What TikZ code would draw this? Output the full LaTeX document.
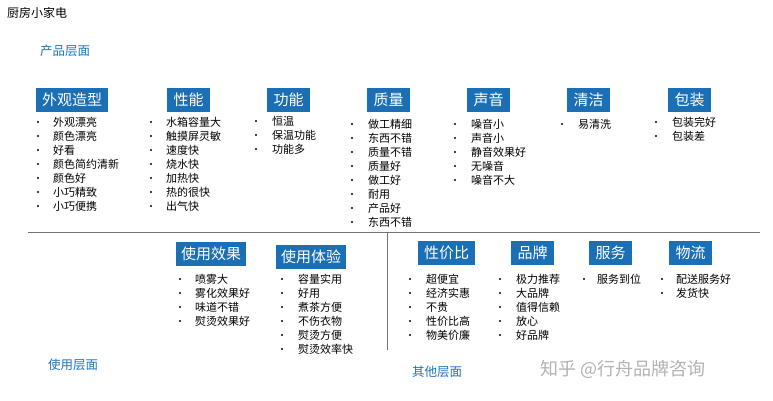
\documentclass[tikz,border=0pt]{standalone}
\usepackage{fontspec}
\setmainfont{Noto Sans CJK SC}
\begin{document}
\begin{tikzpicture}[x=1pt,y=-1pt,
 hd/.style={fill=hblue,text=white,font=\fontsize{15}{15}\selectfont,inner sep=0pt,minimum height=24pt,anchor=west},
 it/.style={font=\fontsize{11}{12}\selectfont,anchor=west,inner sep=0pt},
 bl/.style={fill=black,draw=none}]
\definecolor{hblue}{HTML}{1A6FB5}
\definecolor{lblue}{HTML}{1E73BE}
\useasboundingbox[fill=white] (0,0) rectangle (773,400);
\newcommand{\lst}[5]{% bulletx y0 textx unused items
 \foreach \t [count=\i from 0] in {#5} {
  \fill[bl] (#1,#2+\i*14) circle (1.1pt);
  \node[it] at (#3,#2+\i*14) {\t};}}
\node[anchor=west,font=\fontsize{12}{12}\selectfont,inner sep=0] (title) at (7,13) {厨房小家电};
\node[anchor=west,font=\fontsize{12.5}{12}\selectfont,text=lblue,inner sep=0] (p1) at (40,51) {产品层面};
\node[anchor=west,font=\fontsize{12.5}{12}\selectfont,text=lblue,inner sep=0] (p2) at (48,365) {使用层面};
\node[anchor=west,font=\fontsize{12.5}{12}\selectfont,text=lblue,inner sep=0] (p3) at (412,372) {其他层面};
\node[anchor=west,font=\fontsize{18}{18}\selectfont,text=black!30,inner sep=0] (wm) at (540,369) {知乎 @行舟品牌咨询};
\node[hd,minimum width=72pt] (h1) at (36,100) {外观造型};
\node[hd,minimum width=43pt] (h2) at (167,100) {性能};
\node[hd,minimum width=43pt] (h3) at (267,100) {功能};
\node[hd,minimum width=43pt] (h4) at (367,100) {质量};
\node[hd,minimum width=43pt] (h5) at (467,100) {声音};
\node[hd,minimum width=43pt] (h6) at (567,100) {清洁};
\node[hd,minimum width=43pt] (h7) at (668,100) {包装};
\lst{38}{122}{53}{}{外观漂亮,颜色漂亮,好看,颜色简约清新,颜色好,小巧精致,小巧便携}
\lst{151}{122}{166}{}{水箱容量大,触摸屏灵敏,速度快,烧水快,加热快,热的很快,出气快}
\lst{256}{121}{272}{}{恒温,保温功能,功能多}
\lst{352}{124}{368}{}{做工精细,东西不错,质量不错,质量好,做工好,耐用,产品好,东西不错}
\lst{455}{124}{471}{}{噪音小,声音小,静音效果好,无噪音,噪音不大}
\lst{562}{124}{578}{}{易清洗}
\lst{656}{122}{672}{}{包装完好,包装差}
\draw[black!55,line width=0.8pt] (28,232) coordinate (l1) -- (760,232) coordinate (l2);
\draw[black!55,line width=0.8pt] (387,232) coordinate (v1) -- (387,350) coordinate (v2);
\node[hd,minimum width=70pt] (b1) at (176,254) {使用效果};
\node[hd,minimum width=70pt] (b2) at (276,257) {使用体验};
\node[hd,minimum width=57pt] (b3) at (418,253) {性价比};
\node[hd,minimum width=43pt] (b4) at (511,253) {品牌};
\node[hd,minimum width=43pt] (b5) at (589,253) {服务};
\node[hd,minimum width=43pt] (b6) at (669,253) {物流};
\lst{180}{279}{195}{}{喷雾大,雾化效果好,味道不错,熨烫效果好}
\lst{282}{279}{298}{}{容量实用,好用,煮茶方便,不伤衣物,熨烫方便,熨烫效率快}
\lst{410}{279}{426}{}{超便宜,经济实惠,不贵,性价比高,物美价廉}
\lst{500}{279}{516}{}{极力推荐,大品牌,值得信赖,放心,好品牌}
\lst{584}{279}{597}{}{服务到位}
\lst{662}{279}{676}{}{配送服务好,发货快}
\end{tikzpicture}
\end{document}
